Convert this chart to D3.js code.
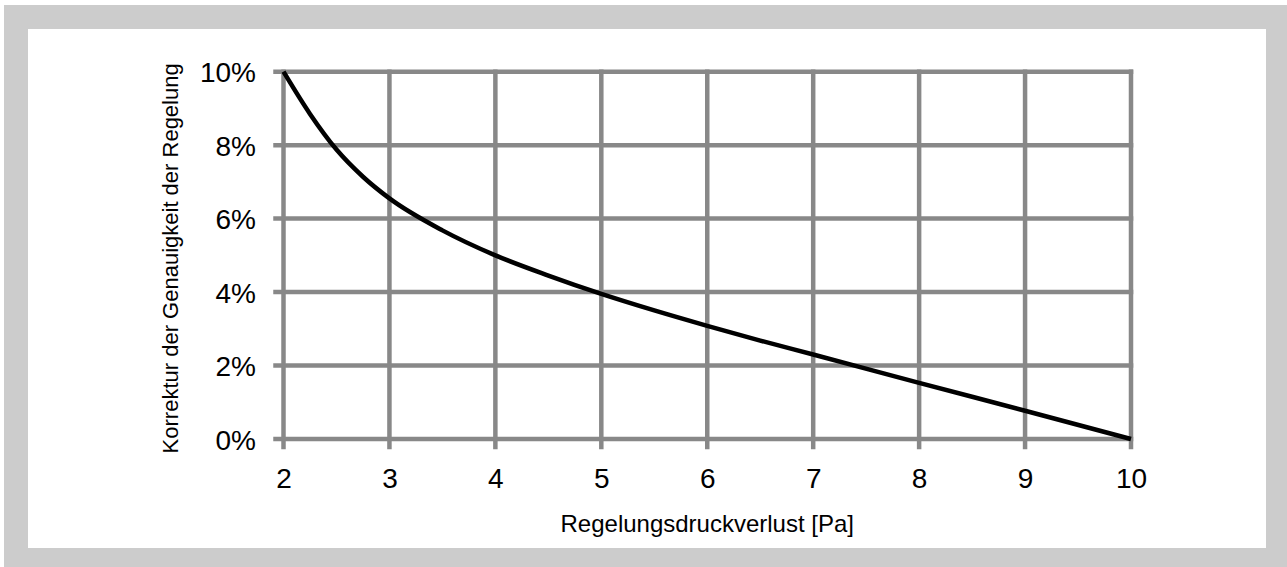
<!DOCTYPE html>
<meta charset="utf-8">
<script src="https://d3js.org/d3.v7.min.js"></script>
<style>
  body { margin: 0; background: #fff; }
  text { font-family: "Liberation Sans", Arial, sans-serif; fill: #000; }
</style>
<div id="chart"></div>
<script>

// curve
var druck = [2, 2.25, 2.5, 2.75, 3, 3.5, 4, 4.5, 5, 5.5, 6, 6.5, 7, 8, 9, 10];
var korrektur = [10, 8.85, 7.88, 7.14, 6.55, 5.68, 5.0, 4.45, 3.95, 3.5, 3.08, 2.68, 2.3, 1.53, 0.77, 0];

var xTicks = [2, 3, 4, 5, 6, 7, 8, 9, 10];
var yTicks = [0, 2, 4, 6, 8, 10];

var xTitle = "Regelungsdruckverlust [Pa]";
var yTitle = "Korrektur der Genauigkeit der Regelung";

var W = 1287, H = 567;

var svg = d3.select("#chart").append("svg")
  .attr("width", W)
  .attr("height", H);

// grey frame
svg.append("rect").attr("x", 4).attr("y", 5).attr("width", W - 4).attr("height", H - 5)
  .attr("fill", "#cccccc");
svg.append("rect").attr("x", 28).attr("y", 29).attr("width", 1238).attr("height", 519)
  .attr("fill", "#ffffff");

// scales
var x = d3.scaleLinear().domain([2, 10]).range([283.5, 1131]);
var y = d3.scaleLinear().domain([0, 10]).range([439, 71.7]);

var grid = svg.append("g")
  .attr("stroke", "#888888")
  .attr("stroke-width", 4.5)
  .attr("stroke-linecap", "square");

// vertical grid (with tick below)
grid.selectAll(".vl")
  .data(xTicks)
  .enter().append("line")
    .attr("x1", function(d) { return x(d); })
    .attr("x2", function(d) { return x(d); })
    .attr("y1", y(10))
    .attr("y2", y(0) + 8);

// horizontal grid (with tick left)
grid.selectAll(".hl")
  .data(yTicks)
  .enter().append("line")
    .attr("x1", x(2) - 8)
    .attr("x2", x(10))
    .attr("y1", function(d) { return y(d); })
    .attr("y2", function(d) { return y(d); });

// tick labels through axes
var xAxis = svg.append("g")
  .attr("transform", "translate(0," + (y(0) + 49) + ")")
  .call(d3.axisBottom(x).tickValues(xTicks).tickSize(0).tickPadding(0).tickFormat(d3.format("d")));
xAxis.select(".domain").remove();
xAxis.selectAll("text")
  .attr("y", 0).attr("dy", 0)
  .style("font-size", "28px")
  .style("font-family", "'Liberation Sans', Arial, sans-serif");

var yAxis = svg.append("g")
  .attr("transform", "translate(256,0)")
  .call(d3.axisLeft(y).tickValues(yTicks).tickSize(0).tickPadding(0)
    .tickFormat(function(d) { return d + "%"; }));
yAxis.select(".domain").remove();
yAxis.selectAll("text")
  .attr("x", 0).attr("dy", "0.36em")
  .style("font-size", "28px")
  .style("font-family", "'Liberation Sans', Arial, sans-serif");

// the curve
var pts = druck.map(function(d, i) { return [d, korrektur[i]]; });
var line = d3.line()
  .x(function(d) { return x(d[0]); })
  .y(function(d) { return y(d[1]); })
  .curve(d3.curveMonotoneX);

svg.append("path")
  .datum(pts)
  .attr("d", line)
  .attr("fill", "none")
  .attr("stroke", "#000")
  .attr("stroke-width", 4.5)
  .attr("stroke-linecap", "butt");

// axis titles
svg.append("text")
  .attr("x", (x(2) + x(10)) / 2)
  .attr("y", 532)
  .attr("text-anchor", "middle")
  .style("font-size", "24px")
  .text(xTitle);

svg.append("text")
  .attr("transform", "translate(178," + ((y(0) + y(10)) / 2 + 3) + ") rotate(-90)")
  .attr("text-anchor", "middle")
  .style("font-size", "22px")
  .text(yTitle);

</script>
